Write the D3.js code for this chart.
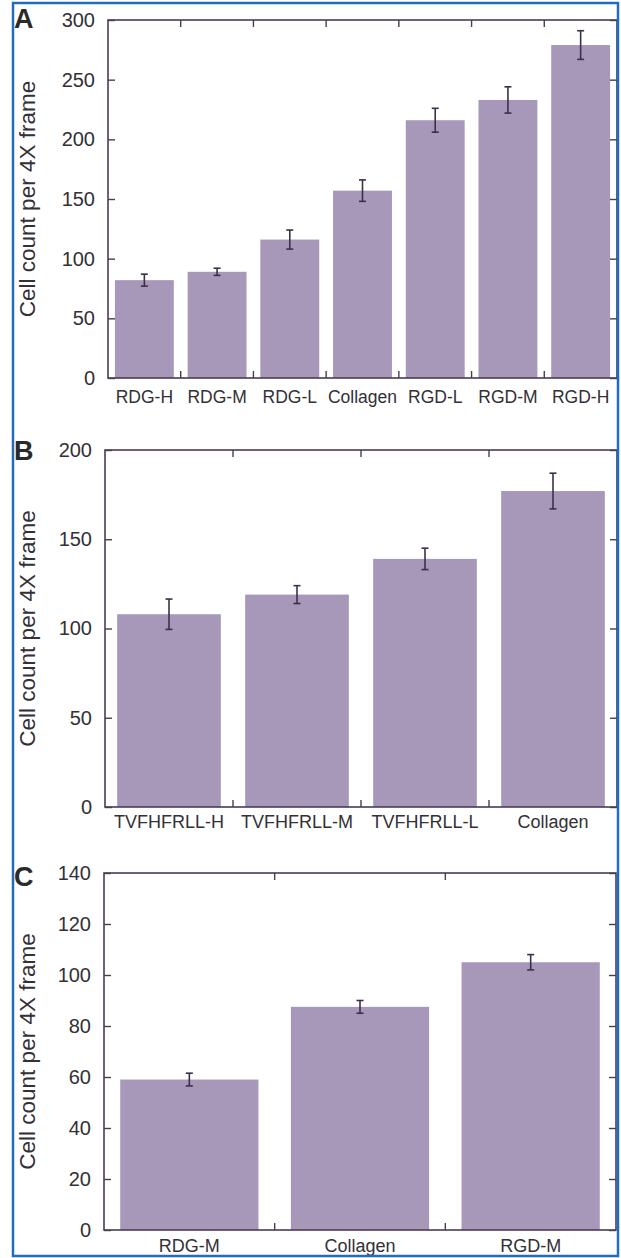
<!DOCTYPE html>
<html>
<head>
<meta charset="utf-8">
<script src="https://cdn.jsdelivr.net/npm/d3@7/dist/d3.min.js"></script>
<style>
  html, body { margin: 0; padding: 0; background: #ffffff; }
  svg { display: block; }
  text { font-family: "Liberation Sans", Arial, Helvetica, sans-serif; }
</style>
</head>
<body>
<svg id="chart" width="621" height="1258"></svg>
<script>
// Panel A: RDG / RGD ligand densities vs collagen
const catsA = ["RDG-H", "RDG-M", "RDG-L", "Collagen", "RGD-L", "RGD-M", "RGD-H"];
const meanA = [82, 89, 116, 157, 216, 233, 279];
const errA  = [5, 3, 8, 9, 10, 11, 12];
const ticksA = [0, 50, 100, 150, 200, 250, 300];

// Panel B: TVFHFRLL densities vs collagen
const catsB = ["TVFHFRLL-H", "TVFHFRLL-M", "TVFHFRLL-L", "Collagen"];
const meanB = [108, 119, 139, 177];
const errB  = [8.5, 5, 6, 10];
const ticksB = [0, 50, 100, 150, 200];

// Panel C: RDG-M, collagen, RGD-M
const catsC = ["RDG-M", "Collagen", "RGD-M"];
const meanC = [59, 87.5, 105];
const errC  = [2.5, 2.5, 3];
const ticksC = [0, 20, 40, 60, 80, 100, 120, 140];

const yTitle = "Cell count per 4X frame";

const svg = d3.select("#chart");
const barColor = "#a798b9";
const frameColor = "#4a3d52";
const textColor = "#333036";

svg.append("rect").attr("width", 621).attr("height", 1258).attr("fill", "#ffffff");

function panel(cfg) {
  const { letter, cats, mean, err, ticks, left, right, top, bottom, labelSize, labelBase } = cfg;
  const g = svg.append("g");

  const x = d3.scaleBand().domain(cats).range([left, right])
    .paddingInner(0.19).paddingOuter(0.095);
  const y = d3.scaleLinear().domain([ticks[0], ticks[ticks.length - 1]]).range([bottom, top]);

  // bars
  g.selectAll("rect.bar").data(cats).join("rect")
    .attr("class", "bar")
    .attr("x", d => x(d))
    .attr("width", x.bandwidth())
    .attr("y", (d, i) => y(mean[i]))
    .attr("height", (d, i) => y(0) - y(mean[i]))
    .attr("fill", barColor);

  // error bars
  const eb = g.selectAll("g.err").data(cats).join("g").attr("class", "err")
    .attr("stroke", "#3b3048").attr("stroke-width", 1.6);
  eb.append("line")
    .attr("x1", d => x(d) + x.bandwidth() / 2).attr("x2", d => x(d) + x.bandwidth() / 2)
    .attr("y1", (d, i) => y(mean[i] + err[i])).attr("y2", (d, i) => y(mean[i] - err[i]));
  eb.append("line")
    .attr("x1", d => x(d) + x.bandwidth() / 2 - 3.5).attr("x2", d => x(d) + x.bandwidth() / 2 + 3.5)
    .attr("y1", (d, i) => y(mean[i] + err[i])).attr("y2", (d, i) => y(mean[i] + err[i]));
  eb.append("line")
    .attr("x1", d => x(d) + x.bandwidth() / 2 - 3.5).attr("x2", d => x(d) + x.bandwidth() / 2 + 3.5)
    .attr("y1", (d, i) => y(mean[i] - err[i])).attr("y2", (d, i) => y(mean[i] - err[i]));

  // left axis with inward ticks
  const yl = g.append("g").attr("transform", `translate(${left},0)`)
    .call(d3.axisLeft(y).tickValues(ticks).tickSize(-7).tickPadding(13));
  yl.select(".domain").remove();
  yl.selectAll(".tick line").attr("stroke", frameColor).attr("stroke-width", 1.4);
  yl.selectAll(".tick text").attr("fill", textColor).style("font-size", "20px");

  // right axis ticks, inward
  const yr = g.append("g").attr("transform", `translate(${right},0)`)
    .call(d3.axisRight(y).tickValues(ticks).tickSize(-7).tickFormat(""));
  yr.select(".domain").remove();
  yr.selectAll(".tick line").attr("stroke", frameColor).attr("stroke-width", 1.4);

  // category labels
  const xb = g.append("g").attr("transform", `translate(0,${bottom})`)
    .call(d3.axisBottom(x).tickSize(0).tickPadding(0));
  xb.select(".domain").remove();
  xb.selectAll(".tick text")
    .attr("y", labelBase - bottom).attr("dy", null)
    .attr("fill", textColor).style("font-size", labelSize + "px");

  // band boundary ticks on top and bottom edges
  const bounds = cats.slice(1).map(c => x(c) - x.step() * x.paddingInner() / 2);
  g.selectAll("line.bt").data(bounds).join("line").attr("class", "bt")
    .attr("x1", d => d).attr("x2", d => d).attr("y1", bottom).attr("y2", bottom - 7)
    .attr("stroke", frameColor).attr("stroke-width", 1.4);
  g.selectAll("line.tt").data(bounds).join("line").attr("class", "tt")
    .attr("x1", d => d).attr("x2", d => d).attr("y1", top).attr("y2", top + 7)
    .attr("stroke", frameColor).attr("stroke-width", 1.4);

  // frame
  g.append("rect").attr("x", left).attr("y", top)
    .attr("width", right - left).attr("height", bottom - top)
    .attr("fill", "none").attr("stroke", frameColor).attr("stroke-width", 1.6);

  // axis title
  g.append("text")
    .attr("transform", `translate(35,${(top + bottom) / 2}) rotate(-90)`)
    .attr("text-anchor", "middle")
    .attr("fill", textColor).style("font-size", "22.5px")
    .text(yTitle);

  // panel letter
  g.append("text").attr("x", 14).attr("y", cfg.letterY)
    .attr("fill", "#2a2a2a").style("font-size", "27px").style("font-weight", "bold")
    .text(letter);
}

panel({ letter: "A", cats: catsA, mean: meanA, err: errA, ticks: ticksA,
  left: 108, right: 617, top: 20, bottom: 378, labelSize: 17.5, labelBase: 403, letterY: 28 });
panel({ letter: "B", cats: catsB, mean: meanB, err: errB, ticks: ticksB,
  left: 105, right: 617, top: 450, bottom: 807, labelSize: 18, labelBase: 828, letterY: 460 });
panel({ letter: "C", cats: catsC, mean: meanC, err: errC, ticks: ticksC,
  left: 104, right: 616, top: 873, bottom: 1230, labelSize: 18, labelBase: 1252, letterY: 886 });

// figure border
svg.append("rect").attr("x", 13).attr("y", 3).attr("width", 605).attr("height", 1253)
  .attr("fill", "none").attr("stroke", "#1f6cc2").attr("stroke-width", 2.5);
</script>
</body>
</html>
